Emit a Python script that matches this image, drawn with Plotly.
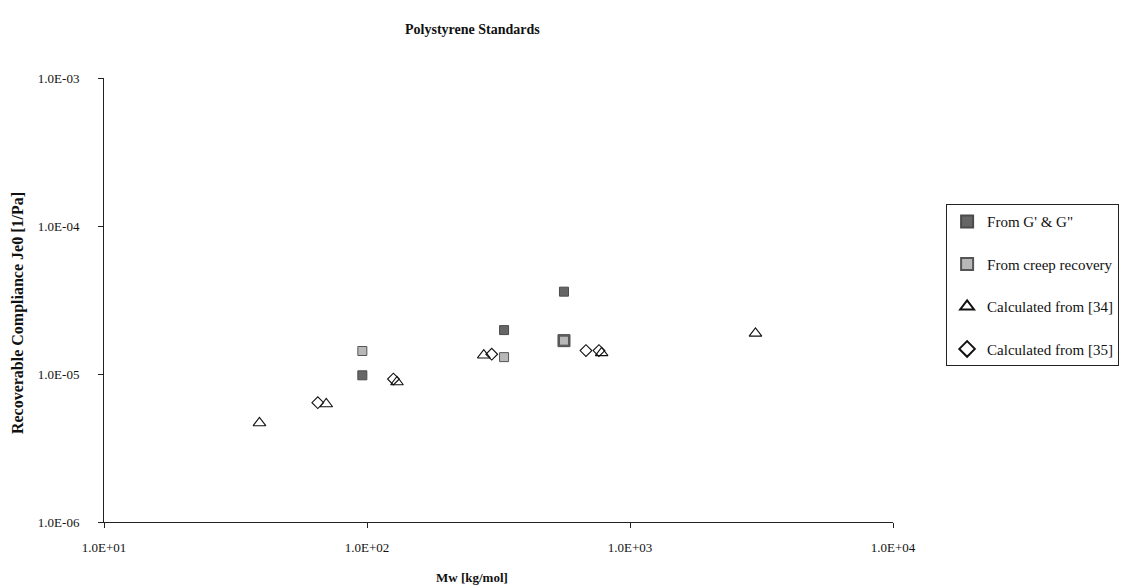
import plotly.graph_objects as go

# ---- data ----
g_x = [96, 332, 561, 561]
g_y = [9.8e-6, 1.98e-5, 3.6e-5, 1.68e-5]

creep_x = [96, 332, 561]
creep_y = [1.43e-5, 1.30e-5, 1.68e-5]

calc34_x = [39, 70, 130, 278, 780, 3000]
calc34_y = [4.67e-6, 6.27e-6, 8.83e-6, 1.34e-5, 1.39e-5, 1.88e-5]

calc35_x = [65, 126, 298, 680, 762]
calc35_y = [6.4e-6, 9.25e-6, 1.36e-5, 1.44e-5, 1.44e-5]

x_tickvals = [10, 100, 1000, 10000]
x_ticktext = ["1.0E+01", "1.0E+02", "1.0E+03", "1.0E+04"]
y_tickvals = [1e-6, 1e-5, 1e-4, 1e-3]
y_ticktext = ["1.0E-06", "1.0E-05", "1.0E-04", "1.0E-03"]

title_text = "Polystyrene Standards"
x_title = "Mw [kg/mol]"
y_title = "Recoverable Compliance Je0 [1/Pa]"

FONT = "Liberation Serif, Times New Roman, serif"

fig = go.Figure()
fig.add_trace(go.Scatter(
    x=g_x, y=g_y, mode="markers", name="From G' & G\"", legendgroup="a",
    marker=dict(symbol="square", size=[9, 9, 9, 12], color="#262626",
                line=dict(color="#000000", width=1))))
fig.add_trace(go.Scatter(
    x=creep_x, y=creep_y, mode="markers", name="From creep recovery", legendgroup="b",
    marker=dict(symbol="square", size=9, color="#b8b8b8",
                line=dict(color="#555555", width=1))))
fig.add_trace(go.Scatter(
    x=calc34_x, y=calc34_y, mode="markers", name="Calculated from [34]", legendgroup="c",
    marker=dict(symbol="triangle-up-open", size=11, color="#111111",
                line=dict(color="#111111", width=1.1))))
fig.add_trace(go.Scatter(
    x=calc35_x, y=calc35_y, mode="markers", name="Calculated from [35]", legendgroup="d",
    marker=dict(symbol="diamond-open", size=9, color="#111111",
                line=dict(color="#111111", width=1.1))))

axis_common = dict(showgrid=False, zeroline=False, showline=True, linecolor="#222222",
                   linewidth=1, ticks="outside", ticklen=5, tickcolor="#222222",
                   tickfont=dict(family=FONT, size=13, color="#111111"))

fig.update_layout(
    width=1129, height=585, autosize=False,
    margin=dict(l=104, r=236, t=78, b=63),
    paper_bgcolor="white", plot_bgcolor="white",
    font=dict(family=FONT, size=13, color="#111111"),
    showlegend=True,
    legend=dict(xref="container", yref="container", x=0.838, y=0.651,
                xanchor="left", yanchor="top",
                bordercolor="#222222", borderwidth=1, bgcolor="white",
                font=dict(family=FONT, size=15, color="#111111"),
                tracegroupgap=20, itemsizing="constant"),
    xaxis=dict(type="log", range=[1, 4], tickvals=x_tickvals, ticktext=x_ticktext,
               ticklabelstandoff=8, **axis_common),
    yaxis=dict(type="log", range=[-6, -3], tickvals=y_tickvals, ticktext=y_ticktext,
               ticklabelstandoff=16, **axis_common),
    xaxis2=dict(type="log", range=[1, 4], tickvals=x_tickvals, overlaying="x",
                showticklabels=False, ticks="inside", ticklen=5, tickcolor="#222222",
                showgrid=False, zeroline=False, showline=False),
    yaxis2=dict(type="log", range=[-6, -3], tickvals=y_tickvals, overlaying="y",
                showticklabels=False, ticks="inside", ticklen=5, tickcolor="#222222",
                showgrid=False, zeroline=False, showline=False),
)

fig.add_annotation(text="<b>" + title_text + "</b>", xref="paper", yref="paper",
                   x=0.467, y=1.11, xanchor="center", yanchor="middle", showarrow=False,
                   font=dict(family=FONT, size=14, color="#111111"))
fig.add_annotation(text="<b>" + x_title + "</b>", xref="paper", yref="paper",
                   x=0.467, y=-0.125, xanchor="center", yanchor="middle", showarrow=False,
                   font=dict(family=FONT, size=13, color="#111111"))
fig.add_annotation(text="<b>" + y_title + "</b>", xref="paper", yref="paper",
                   x=-0.108, y=0.47, xanchor="center", yanchor="middle", showarrow=False,
                   textangle=-90, font=dict(family=FONT, size=16, color="#111111"))

fig.write_html("out.html")
